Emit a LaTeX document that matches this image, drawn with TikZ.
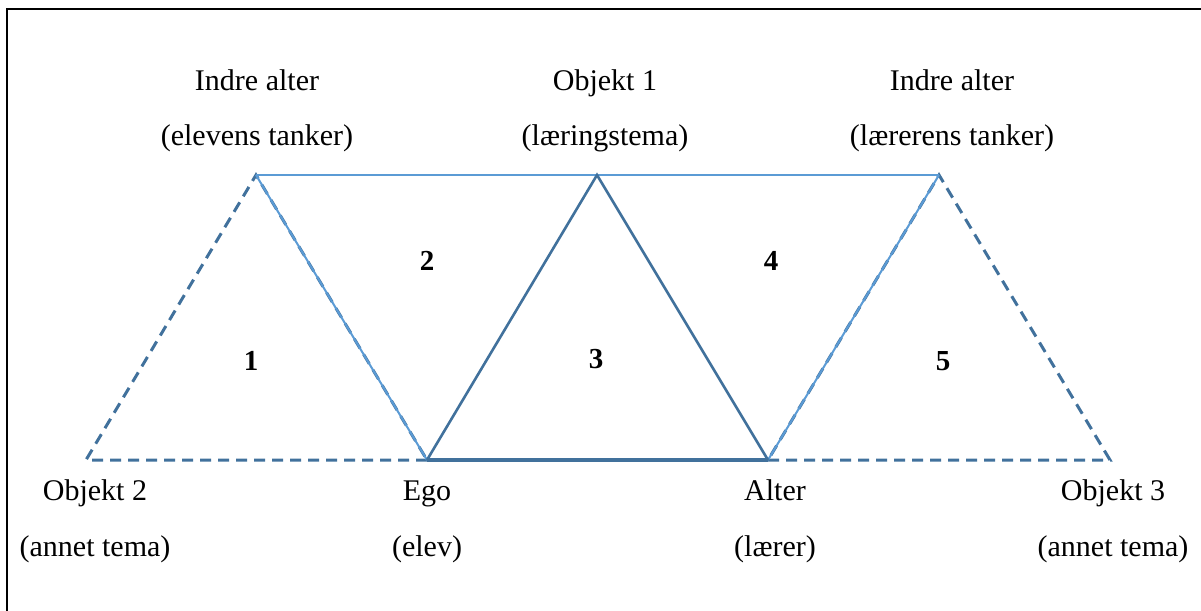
\documentclass[tikz,border=0pt]{standalone}
\usepackage{fontspec}
\setmainfont{Liberation Serif}
\definecolor{darkline}{HTML}{41719C}
\definecolor{lightline}{HTML}{5B9BD5}
\begin{document}
\begin{tikzpicture}[x=0.5pt,y=-0.5pt,
  lbl/.style={anchor=base,inner sep=0pt,font=\fontsize{15}{18}\selectfont},
  num/.style={anchor=base,inner sep=0pt,font=\fontsize{14.5}{17}\selectfont\bfseries},
  dashline/.style={draw=darkline,line width=1.5pt,dash pattern=on 5.5pt off 3.5pt},
  solidline/.style={draw=darkline,line width=1.3pt},
  lightsolid/.style={draw=lightline,line width=1pt}]
  \useasboundingbox (0,0) rectangle (1201,611);
  % frame
  \draw[line width=0.7pt] (7,611) -- (7,9) -- (1201,9);

  % vertices
  \coordinate (ia1) at (256,175);
  \coordinate (o1)  at (597,175);
  \coordinate (ia2) at (939,175);
  \coordinate (o2)  at (86,460);
  \coordinate (ego) at (427,460);
  \coordinate (alt) at (768,460);
  \coordinate (o3)  at (1110,460);

  % outer dashed triangles
  \draw[dashline] (ego) -- (o2) -- (ia1) -- (ego);
  \draw[dashline] (alt) -- (o3) -- (ia2) -- (alt);

  % inner alters connected through the top
  \draw[lightsolid] (ia1) -- (ia2);
  \draw[lightsolid] (ia1) -- (ego);
  \draw[lightsolid] (alt) -- (ia2);

  % central triangle
  \draw[solidline,line join=miter] (ego) -- (o1) -- (alt);
  \draw[draw=darkline,line width=1.7pt] (ego) -- (alt);

  % labels
  \node[lbl] (t1a) at (257,90)  {Indre alter};
  \node[lbl] (t1b) at (257,145) {(elevens tanker)};
  \node[lbl] (t2a) at (605,90)  {Objekt 1};
  \node[lbl] (t2b) at (605,145) {(læringstema)};
  \node[lbl] (t3a) at (952,90)  {Indre alter};
  \node[lbl] (t3b) at (952,145) {(lærerens tanker)};
  \node[lbl] (b1a) at (95,500)  {Objekt 2};
  \node[lbl] (b1b) at (95,556)  {(annet tema)};
  \node[lbl] (b2a) at (427,500) {Ego};
  \node[lbl] (b2b) at (427,556) {(elev)};
  \node[lbl] (b3a) at (775,500) {Alter};
  \node[lbl] (b3b) at (775,556) {(lærer)};
  \node[lbl] (b4a) at (1113,500) {Objekt 3};
  \node[lbl] (b4b) at (1113,556) {(annet tema)};

  % triangle numbers
  \node[num] (n1) at (251,370) {1};
  \node[num] (n2) at (427,270) {2};
  \node[num] (n3) at (596,368) {3};
  \node[num] (n4) at (771,270) {4};
  \node[num] (n5) at (943,370) {5};
\end{tikzpicture}
\end{document}
